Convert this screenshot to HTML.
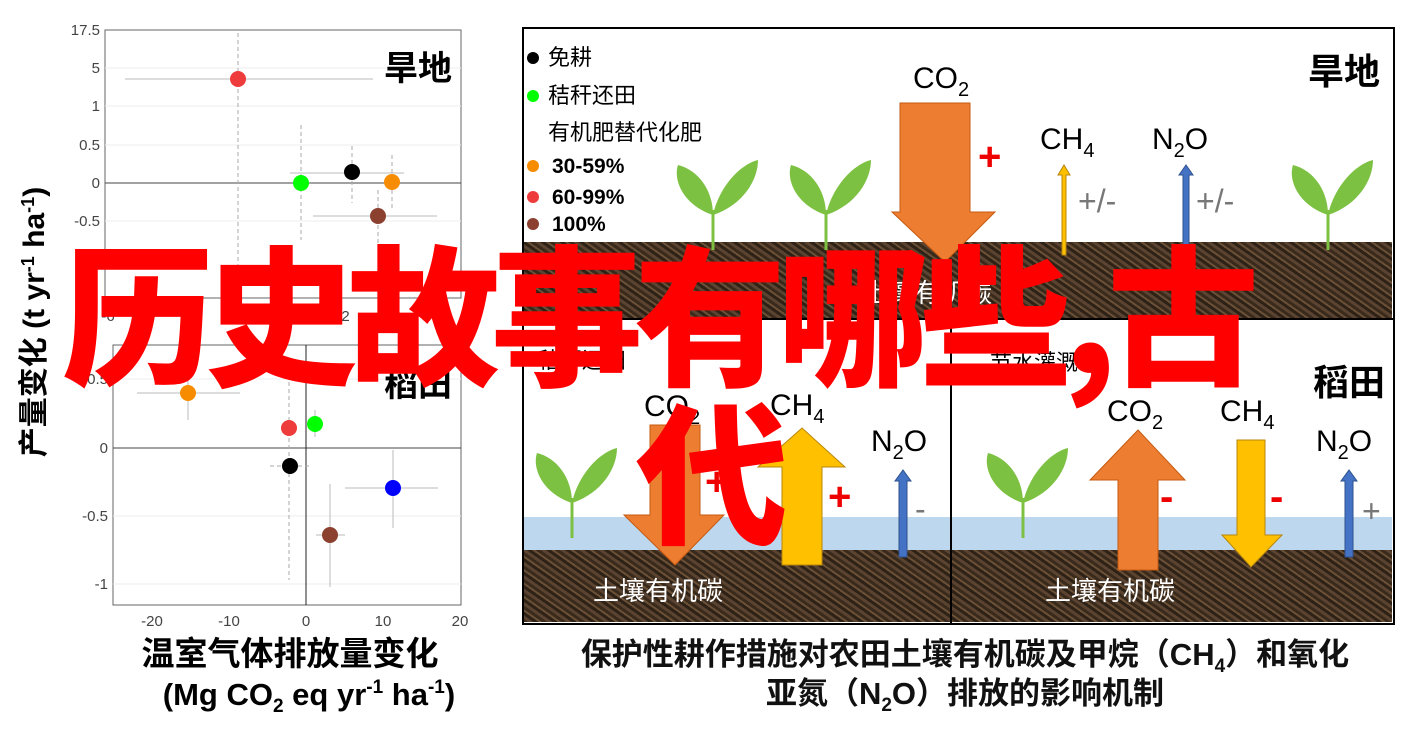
<!DOCTYPE html>
<html><head><meta charset="utf-8"><style>
body{margin:0;width:1419px;height:732px;background:#fff;overflow:hidden;position:relative;font-family:"Liberation Sans","Noto Sans CJK SC",sans-serif}
.a{position:absolute}
.soil{background:repeating-linear-gradient(35deg,#3a2a1c 0 3px,#5a4330 3px 6px,#2e2116 6px 9px,#6b5038 9px 11px);}
.big{position:absolute;color:#f00;font-family:"Noto Sans CJK SC",sans-serif;font-weight:900;font-size:152px;line-height:160px;white-space:nowrap}
</style></head><body>
<svg class="a" style="left:0;top:0" width="520" height="732" font-family="Liberation Sans, Noto Sans CJK SC, sans-serif">
<g fill="none" stroke="#666" stroke-width="1">
<rect x="105" y="30" width="356" height="268"/>
<rect x="113" y="345" width="348" height="260"/>
</g>
<g stroke="#eee"><line x1="105" y1="68" x2="461" y2="68"/><line x1="105" y1="106" x2="461" y2="106"/><line x1="105" y1="145" x2="461" y2="145"/><line x1="105" y1="221" x2="461" y2="221"/>
<line x1="113" y1="379" x2="461" y2="379"/><line x1="113" y1="516" x2="461" y2="516"/><line x1="113" y1="584" x2="461" y2="584"/></g>
<line x1="105" y1="183" x2="461" y2="183" stroke="#444"/>
<line x1="113" y1="448" x2="461" y2="448" stroke="#444"/>
<line x1="306" y1="345" x2="306" y2="605" stroke="#222"/>
<g stroke="#bbb"><line x1="125" y1="79" x2="373" y2="79"/><line x1="290" y1="173" x2="404" y2="173"/><line x1="313" y1="216" x2="437" y2="216"/>
<line x1="137" y1="393" x2="240" y2="393"/><line x1="188" y1="365" x2="188" y2="420"/><line x1="345" y1="488" x2="438" y2="488"/><line x1="393" y1="450" x2="393" y2="528"/><line x1="330" y1="484" x2="330" y2="587"/><line x1="316" y1="535" x2="345" y2="535"/><line x1="315" y1="410" x2="315" y2="437"/></g>
<g stroke="#aaa" stroke-dasharray="4,3"><line x1="238" y1="33" x2="238" y2="298"/><line x1="301" y1="125" x2="301" y2="240"/><line x1="352" y1="146" x2="352" y2="203"/><line x1="392" y1="155" x2="392" y2="210"/><line x1="378" y1="190" x2="378" y2="250"/><line x1="289" y1="368" x2="289" y2="580"/><line x1="270" y1="466" x2="310" y2="466"/></g>
<g><circle cx="238" cy="79" r="8" fill="#ee3b3b"/><circle cx="301" cy="183" r="8" fill="#0f0"/><circle cx="352" cy="172" r="8" fill="#000"/><circle cx="392" cy="182" r="8" fill="#f88c00"/><circle cx="378" cy="216" r="8" fill="#8b4030"/>
<circle cx="188" cy="393" r="8" fill="#f88c00"/><circle cx="289" cy="428" r="8" fill="#ee3b3b"/><circle cx="315" cy="424" r="8" fill="#0f0"/><circle cx="290" cy="466" r="8" fill="#000"/><circle cx="393" cy="488" r="8" fill="#00f"/><circle cx="330" cy="535" r="8" fill="#8b4030"/></g>
<g font-size="15" fill="#444" text-anchor="end"><text x="100" y="35">17.5</text><text x="100" y="73">5</text><text x="100" y="111">1</text><text x="100" y="150">0.5</text><text x="100" y="188">0</text><text x="100" y="226">-0.5</text>
<text x="108" y="384">0.5</text><text x="108" y="453">0</text><text x="108" y="521">-0.5</text><text x="108" y="589">-1</text></g>
<g font-size="15" fill="#444" text-anchor="middle"><text x="152" y="626">-20</text><text x="229" y="626">-10</text><text x="306" y="626">0</text><text x="383" y="626">10</text><text x="460" y="626">20</text><text x="108" y="321">-6</text><text x="343" y="321">-2</text></g>
<text x="452" y="80" font-size="34" font-weight="bold" text-anchor="end">旱地</text>
<text x="452" y="396" font-size="34" font-weight="bold" text-anchor="end">稻田</text>
<text transform="translate(44,322) rotate(-90)" font-size="30" font-weight="bold" text-anchor="middle">产量变化 (t yr<tspan font-size="18" dy="-10">-1</tspan><tspan dy="10"> ha</tspan><tspan font-size="18" dy="-10">-1</tspan><tspan dy="10">)</tspan></text>
<text x="290" y="665" font-size="33" font-weight="bold" text-anchor="middle">温室气体排放量变化</text>
<text x="309" y="705" font-size="31" font-weight="bold" text-anchor="middle">(Mg CO<tspan font-size="19" dy="7">2</tspan><tspan dy="-7"> eq yr</tspan><tspan font-size="19" dy="-12">-1</tspan><tspan dy="12"> ha</tspan><tspan font-size="19" dy="-12">-1</tspan><tspan dy="12">)</tspan></text>
</svg>

<div class="a soil" style="left:523px;top:242px;width:869px;height:76px"></div>
<div class="a" style="left:523px;top:517px;width:869px;height:33px;background:#bdd7ee"></div>
<div class="a soil" style="left:523px;top:550px;width:869px;height:72px"></div>
<div class="a" style="left:522px;top:27px;width:869px;height:594px;border:2px solid #000"></div>
<div class="a" style="left:522px;top:318px;width:871px;height:2px;background:#000"></div>
<div class="a" style="left:950px;top:318px;width:2px;height:305px;background:#000"></div>

<svg class="a" style="left:0;top:0" width="1419" height="732" font-family="Liberation Sans, Noto Sans CJK SC, sans-serif">
<defs><g id="pl"><path d="M0,60 L0,20" stroke="#7dc142" stroke-width="3" fill="none"/><path d="M0,25 C-30,15 -40,-10 -35,-25 C-15,-20 0,0 0,25Z" fill="#7dc142"/><path d="M0,25 C5,0 25,-25 45,-30 C45,-10 30,15 0,25Z" fill="#7dc142"/></g></defs>
<use href="#pl" x="713" y="190"/><use href="#pl" x="826" y="190"/><use href="#pl" x="1328" y="190"/><use href="#pl" x="572" y="478"/><use href="#pl" x="1023" y="478"/>
<g font-size="22"><circle cx="533" cy="58" r="6"/><text x="548" y="65">免耕</text><circle cx="533" cy="96" r="6" fill="#0f0"/><text x="548" y="103">秸秆还田</text><text x="548" y="140">有机肥替代化肥</text>
<circle cx="533" cy="166" r="6" fill="#f88c00"/><circle cx="533" cy="197" r="6" fill="#ee3b3b"/><circle cx="533" cy="224" r="6" fill="#8b4030"/>
<g font-weight="bold" font-size="21"><text x="552" y="173">30-59%</text><text x="552" y="204">60-99%</text><text x="552" y="231">100%</text></g></g>
<text x="1380" y="84" font-size="36" font-weight="bold" text-anchor="end">旱地</text>
<text x="1385" y="395" font-size="36" font-weight="bold" text-anchor="end">稻田</text>
<g font-size="30"><text x="913" y="88">CO<tspan font-size="20" dy="8">2</tspan></text><text x="1040" y="149">CH<tspan font-size="20" dy="8">4</tspan></text><text x="1152" y="149">N<tspan font-size="20" dy="8">2</tspan><tspan dy="-8">O</tspan></text>
<text x="644" y="416">CO<tspan font-size="20" dy="8">2</tspan></text><text x="770" y="415">CH<tspan font-size="20" dy="8">4</tspan></text><text x="871" y="451">N<tspan font-size="20" dy="8">2</tspan><tspan dy="-8">O</tspan></text>
<text x="1107" y="421">CO<tspan font-size="20" dy="8">2</tspan></text><text x="1220" y="421">CH<tspan font-size="20" dy="8">4</tspan></text><text x="1316" y="451">N<tspan font-size="20" dy="8">2</tspan><tspan dy="-8">O</tspan></text></g>
<path d="M900,103 H970 V212 H995 L945,262 L892,212 H900Z" fill="#ed7d31" stroke="#c55a11"/>
<path d="M650,425 H700 V515 H724 L675,565 L624,515 H650Z" fill="#ed7d31" stroke="#c55a11"/>
<path d="M1118,570 H1158 V480 H1185 L1138,430 L1090,480 H1118Z" fill="#ed7d31" stroke="#c55a11"/>
<path d="M782,565 H822 V467 H845 L802,428 L758,467 H782Z" fill="#ffc000" stroke="#b8860b"/>
<path d="M1237,440 H1265 V535 H1282 L1251,567 L1222,535 H1237Z" fill="#ffc000" stroke="#b8860b"/>
<path d="M1062,255 V175 H1058 L1064,165 L1070,175 H1066 V255Z" fill="#ffc000" stroke="#b8860b"/>
<path d="M1183,245 V175 H1179 L1186,165 L1193,175 H1189 V245Z" fill="#4472c4" stroke="#2f528f"/>
<path d="M899,557 V481 H895 L903,470 L911,481 H907 V557Z" fill="#4472c4" stroke="#2f528f"/>
<path d="M1345,557 V481 H1341 L1349,470 L1357,481 H1353 V557Z" fill="#4472c4" stroke="#2f528f"/>
<g fill="#e00" font-size="40" font-weight="bold"><text x="978" y="170">+</text><text x="828" y="510">+</text><text x="705" y="495">+</text><text x="1160" y="510">-</text><text x="1270" y="510">-</text></g>
<g fill="#777" font-size="32"><text x="1078" y="212">+/-</text><text x="1196" y="212">+/-</text><text x="915" y="520">-</text><text x="1362" y="522">+</text></g>
<g fill="#fff" font-size="26"><text x="593" y="600">土壤有机碳</text><text x="1045" y="600">土壤有机碳</text><text x="862" y="302">土壤有机碳</text></g>
<text x="538" y="368" font-size="22">秸秆还田</text><circle cx="538" cy="360" r="6" fill="#0f0"/>
<text x="990" y="370" font-size="22">节水灌溉</text>
<g font-size="31" text-anchor="middle" font-weight="bold" fill="#111"><text x="965" y="665">保护性耕作措施对农田土壤有机碳及甲烷（CH<tspan font-size="19" dy="7">4</tspan><tspan dy="-7">）和氧化</tspan></text><text x="965" y="704">亚氮（N<tspan font-size="19" dy="7">2</tspan><tspan dy="-7">O）排放的影响机制</tspan></text></g>
</svg>
<div class="big" style="left:62px;top:228px;letter-spacing:-9px">历史故事有哪些,古</div>
<div class="big" style="left:636px;top:386px">代</div>
</body></html>
